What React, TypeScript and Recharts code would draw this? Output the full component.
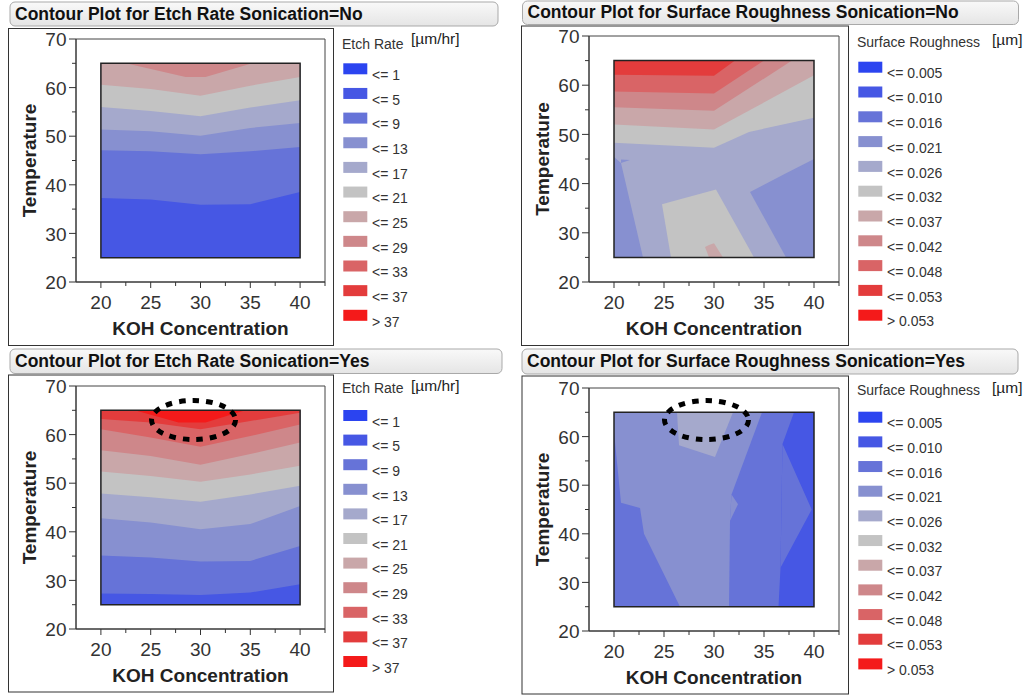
import React from 'react';
import { ComposedChart, Area, XAxis, YAxis, ReferenceArea, ReferenceDot, Label } from 'recharts';

const FONT = '"Liberation Sans", Arial, Helvetica, sans-serif';

// ---------- axes ----------
const KOH_DOMAIN: [number, number] = [17.5, 42.5];
const TEMP_DOMAIN: [number, number] = [20, 70];
const KOH_MAJOR = [20, 25, 30, 35, 40];
const KOH_MINOR = [22.5, 27.5, 32.5, 37.5, 42.5];
const TEMP_MAJOR = [20, 30, 40, 50, 60, 70];
const TEMP_MINOR = [25, 35, 45, 55, 65];
const KOH_RANGE = [20, 40];
const TEMP_RANGE = [25, 65];

// ---------- legend ----------
const LEVEL_COLORS = ['#2b44f0', '#4657e4', '#6673d8', '#8790d0', '#a5a9cc', '#c3c3c3', '#c9a7a9', '#ce878a', '#d96466', '#e33c3c', '#f41a1a'];
const ETCH_LABELS = ['<= 1', '<= 5', '<= 9', '<= 13', '<= 17', '<= 21', '<= 25', '<= 29', '<= 33', '<= 37', '> 37'];
const ROUGH_LABELS = ['<= 0.005', '<= 0.010', '<= 0.016', '<= 0.021', '<= 0.026', '<= 0.032', '<= 0.037', '<= 0.042', '<= 0.048', '<= 0.053', '> 0.053'];

// ---------- Etch rate, Sonication = No ----------
// [level, lower edge [KOH, Temperature] of the region above that contour]
const ETCH_NO_BASE = 1;
const ETCH_NO_EDGES: [number, number[][]][] = [
  [2, [[20, 37.3], [25, 37.0], [30, 35.9], [35, 36.0], [40, 38.5]]],
  [3, [[20, 47.1], [25, 46.9], [30, 46.3], [35, 46.9], [40, 47.8]]],
  [4, [[20, 51.4], [25, 51.0], [30, 50.1], [35, 51.7], [40, 52.7]]],
  [5, [[20, 56.0], [25, 55.2], [30, 54.1], [35, 55.9], [40, 57.4]]],
  [6, [[20, 60.6], [25, 59.7], [30, 58.3], [35, 60.4], [40, 62.2]]],
  [7, [[22.5, 65], [28.5, 62.2], [30.5, 62.2], [35.2, 65]]],
];

// ---------- Etch rate, Sonication = Yes ----------
const ETCH_YES_BASE = 1;
const ETCH_YES_EDGES: [number, number[][]][] = [
  [2, [[20, 27.3], [25, 27.2], [30, 27.0], [35, 27.5], [40, 29.2]]],
  [3, [[20, 35.1], [25, 34.7], [30, 33.9], [35, 34.0], [40, 37.1]]],
  [4, [[20, 42.8], [25, 41.9], [30, 40.5], [35, 41.6], [40, 45.3]]],
  [5, [[20, 47.9], [25, 47.1], [30, 46.2], [35, 47.7], [40, 49.5]]],
  [6, [[20, 52.4], [25, 51.5], [30, 50.3], [35, 51.8], [40, 53.6]]],
  [7, [[20, 56.8], [25, 55.6], [30, 53.8], [35, 56.0], [40, 58.4]]],
  [8, [[20, 61.1], [25, 59.4], [30, 57.5], [35, 59.7], [40, 62.1]]],
  [9, [[20, 63.2], [25, 62.5], [30, 61.1], [35, 62.8], [40, 64.5]]],
  [10, [[23.4, 65], [27.8, 62.5], [30.5, 62.5], [34.5, 65]]],
];
const ETCH_YES_MARK = [29.3, 63.0];

// ---------- Surface roughness, Sonication = No ----------
const ROUGH_NO_BASE = 4;
const ROUGH_NO_EDGES: [number, number[][]][] = [
  [5, [[20, 48.3], [30, 47.3], [33.5, 50.5], [40, 53.4]]],
  [6, [[20, 52.0], [30, 51.0], [40, 62.0]]],
  [7, [[20, 55.5], [30, 54.8], [37.8, 65]]],
  [8, [[20, 58.7], [30, 58.3], [35, 65]]],
  [9, [[20, 62.1], [30, 61.9], [32.1, 65]]],
];
// [level, [KOH, low Temperature, high Temperature] ...]
const ROUGH_NO_PATCHES: [number, number[][]][] = [
  [3, [[20, 25, 45.4], [20.7, 25, 44.2], [22.9, 25, 25]]],
  [3, [[20.7, 44.2, 44.9], [21.6, 44.8, 44.8]]],
  [3, [[33.6, 38.3, 38.3], [37.2, 25, 42.1], [40, 25, 45.0]]],
  [5, [[24.8, 35.8, 35.8], [25.7, 25, 36.3], [30.2, 25, 38.8], [34.0, 25, 25]]],
  [6, [[29.1, 27.1, 27.1], [29.5, 25, 27.5], [30.0, 25, 27.9], [30.9, 25, 25]]],
];

// ---------- Surface roughness, Sonication = Yes ----------
const ROUGH_YES_BASE = 3;
const ROUGH_YES_PATCHES: [number, number[][]][] = [
  [2, [[20, 25, 61], [20.7, 25, 46.4], [22.6, 25, 45.3], [23.0, 25, 40], [26.6, 25, 25]]],
  [2, [[31.5, 25, 25], [31.6, 25, 42.7], [31.75, 25, 48.1], [34.8, 25, 65], [40, 25, 65]]],
  [3, [[31.6, 42.7, 42.7], [31.75, 43.3, 48.1], [32.4, 46.1, 46.1]]],
  [1, [[36.45, 25, 25], [36.65, 25, 33.0], [36.85, 25, 58.5], [38.0, 25, 65], [40, 25, 65]]],
  [2, [[36.65, 33.0, 33.0], [36.85, 33.8, 58.5], [39.77, 45.0, 45.0]]],
  [4, [[26.3, 65, 65], [26.5, 58.2, 65], [30.1, 55.8, 65], [31.9, 65, 65]]],
];
const ROUGH_YES_MARK = [29.25, 63.4];

// ---------- helpers ----------
const X_TICKS = [...KOH_MAJOR, ...KOH_MINOR].sort((a, b) => a - b);
const Y_TICKS = [...TEMP_MAJOR, ...TEMP_MINOR].sort((a, b) => a - b);

const edgeData = (pts: number[][]) => pts.map(([x, y]) => ({ x, r: [y, TEMP_RANGE[1]] }));
const patchData = (pts: number[][]) => pts.map(([x, lo, hi]) => ({ x, r: [lo, hi] }));

function XTick(props: any) {
  const { x, y, payload } = props;
  const v = payload.value;
  const major = KOH_MAJOR.includes(v);
  return (
    <g>
      <line x1={x} x2={x} y1={y} y2={y + (major ? 6 : 4)} stroke="#333" strokeWidth={1} />
      {major ? (
        <text x={x} y={y + 26.5} textAnchor="middle" fontSize={19} fontFamily={FONT} fill="#333">
          {v}
        </text>
      ) : null}
    </g>
  );
}

function YTick(props: any) {
  const { x, y, payload } = props;
  const v = payload.value;
  const major = TEMP_MAJOR.includes(v);
  return (
    <g>
      <line x1={x - (major ? 7 : 4)} x2={x} y1={y} y2={y} stroke="#333" strokeWidth={1} />
      {major ? (
        <text x={x - 9.5} y={y + 7.2} textAnchor="end" fontSize={19} fontFamily={FONT} fill="#333">
          {v}
        </text>
      ) : null}
    </g>
  );
}

const XTitle = (props: any) => {
  const vb = props.viewBox || {};
  return (
    <text x={vb.x + vb.width / 2} y={vb.y + 52.5} textAnchor="middle" fontSize={19} fontWeight="bold" fontFamily={FONT} fill="#222">
      KOH Concentration
    </text>
  );
};

const YTitle = (props: any) => {
  const vb = props.viewBox || {};
  const cx = vb.x + vb.width - 40;
  const cy = vb.y + vb.height / 2;
  return (
    <text transform={`translate(${cx},${cy}) rotate(-90)`} x={0} y={0} textAnchor="middle" fontSize={19} fontWeight="bold" fontFamily={FONT} fill="#222">
      Temperature
    </text>
  );
};

const EllipseShape = (props: any) => (
  <ellipse cx={props.cx} cy={props.cy} rx={42} ry={19.5} fill="none" stroke="#000" strokeWidth={5} strokeDasharray="6.5 7" />
);

type PanelProps = {
  left: number;
  top: number;
  yAxisWidth: number;
  plotWidth: number;
  marginTop: number;
  plotHeight: number;
  base: number;
  edges: [number, number[][]][];
  patches: [number, number[][]][];
  mark?: number[];
};

function Panel({ left, top, yAxisWidth, plotWidth, marginTop, plotHeight, base, edges, patches, mark }: PanelProps) {
  const width = yAxisWidth + plotWidth + 9;
  const height = marginTop + plotHeight + 60;
  const baseData = [
    { x: KOH_RANGE[0], r: [TEMP_RANGE[0], TEMP_RANGE[1]] },
    { x: KOH_RANGE[1], r: [TEMP_RANGE[0], TEMP_RANGE[1]] },
  ];
  return (
    <div style={{ position: 'absolute', left, top, width, height }}>
      <ComposedChart width={width} height={height} data={baseData} margin={{ top: marginTop, right: 9, bottom: 0, left: 0 }}>
        <XAxis
          dataKey="x"
          type="number"
          domain={KOH_DOMAIN}
          allowDataOverflow
          ticks={X_TICKS}
          interval={0}
          tickSize={0}
          tickMargin={0}
          tickLine={false}
          tick={XTick}
          height={60}
          stroke="#333"
        >
          <Label content={XTitle} />
        </XAxis>
        <YAxis
          type="number"
          domain={TEMP_DOMAIN}
          allowDataOverflow
          ticks={Y_TICKS}
          interval={0}
          tickSize={0}
          tickMargin={0}
          tickLine={false}
          tick={YTick}
          width={yAxisWidth}
          stroke="#333"
        >
          <Label content={YTitle} />
        </YAxis>
        <ReferenceArea x1={KOH_DOMAIN[0]} x2={KOH_DOMAIN[1]} y1={TEMP_DOMAIN[0]} y2={TEMP_DOMAIN[1]} fill="none" stroke="#444" strokeWidth={1} />
        <Area dataKey="r" type="linear" fill={LEVEL_COLORS[base]} fillOpacity={1} stroke="none" isAnimationActive={false} dot={false} activeDot={false} />
        {edges.map(([lvl, pts], i) => (
          <Area
            key={'e' + i}
            data={edgeData(pts)}
            dataKey="r"
            type="linear"
            fill={LEVEL_COLORS[lvl]}
            fillOpacity={1}
            stroke="none"
            isAnimationActive={false}
            dot={false}
            activeDot={false}
          />
        ))}
        {patches.map(([lvl, pts], i) => (
          <Area
            key={'p' + i}
            data={patchData(pts)}
            dataKey="r"
            type="linear"
            fill={LEVEL_COLORS[lvl]}
            fillOpacity={1}
            stroke="none"
            isAnimationActive={false}
            dot={false}
            activeDot={false}
          />
        ))}
        <ReferenceArea x1={KOH_RANGE[0]} x2={KOH_RANGE[1]} y1={TEMP_RANGE[0]} y2={TEMP_RANGE[1]} fill="none" stroke="#222" strokeWidth={1.5} />
        {mark ? <ReferenceDot x={mark[0]} y={mark[1]} r={2} ifOverflow="visible" shape={EllipseShape} /> : null}
      </ComposedChart>
    </div>
  );
}

type LegendProps = {
  header: string;
  headerX: number;
  headerY: number;
  unit: string;
  unitX: number;
  unitY: number;
  swatchX: number;
  top0: number;
  step: number;
  labelX: number;
  labels: string[];
};

function LegendBlock({ header, headerX, headerY, unit, unitX, unitY, swatchX, top0, step, labelX, labels }: LegendProps) {
  return (
    <g fontFamily={FONT}>
      <text x={headerX} y={headerY} fontSize={14} fill="#333">{header}</text>
      <text x={unitX} y={unitY} fontSize={15.5} fill="#222">{unit}</text>
      {labels.map((lab, i) => (
        <g key={i}>
          <rect x={swatchX} y={top0 + i * step} width={24} height={11} fill={LEVEL_COLORS[i]} />
          <text x={labelX} y={top0 + i * step + 16.7} fontSize={14} fill="#333">{lab}</text>
        </g>
      ))}
    </g>
  );
}

function TitleBar({ x, y, w, h, text, baseline }: { x: number; y: number; w: number; h: number; text: string; baseline: number }) {
  return (
    <g>
      <rect x={x} y={y} width={w} height={h} rx={5} ry={5} fill="url(#barGrad)" stroke="#a9a9a9" strokeWidth={1} />
      <text x={x + 5} y={baseline} fontSize={17.5} fontWeight="bold" fontFamily={FONT} fill="#111">{text}</text>
    </g>
  );
}

export default function App() {
  return (
    <div style={{ position: 'absolute', left: 0, top: 0, width: 1027, height: 696, background: '#fff', overflow: 'hidden' }}>
      <Panel left={8} top={28} yAxisWidth={68} plotWidth={249} marginTop={11} plotHeight={243} base={ETCH_NO_BASE} edges={ETCH_NO_EDGES} patches={[]} />
      <Panel left={522} top={26} yAxisWidth={67} plotWidth={250} marginTop={10} plotHeight={246} base={ROUGH_NO_BASE} edges={ROUGH_NO_EDGES} patches={ROUGH_NO_PATCHES} />
      <Panel left={8} top={375} yAxisWidth={68} plotWidth={249} marginTop={11} plotHeight={243} base={ETCH_YES_BASE} edges={ETCH_YES_EDGES} patches={[]} mark={ETCH_YES_MARK} />
      <Panel left={522} top={376} yAxisWidth={67} plotWidth={250} marginTop={12} plotHeight={243} base={ROUGH_YES_BASE} edges={[]} patches={ROUGH_YES_PATCHES} mark={ROUGH_YES_MARK} />
      <svg width={1027} height={696} style={{ position: 'absolute', left: 0, top: 0, pointerEvents: 'none' }}>
        <defs>
          <linearGradient id="barGrad" x1="0" y1="0" x2="0" y2="1">
            <stop offset="0" stopColor="#f9f9f9" />
            <stop offset="1" stopColor="#e5e5e5" />
          </linearGradient>
        </defs>
        <TitleBar x={10} y={2} w={488} h={24} text="Contour Plot for Etch Rate Sonication=No" baseline={20} />
        <TitleBar x={522.5} y={1} w={496} h={23.5} text="Contour Plot for Surface Roughness Sonication=No" baseline={17.5} />
        <TitleBar x={10} y={349} w={492} h={24.5} text="Contour Plot for Etch Rate Sonication=Yes" baseline={366.7} />
        <TitleBar x={522} y={349} w={496} h={25} text="Contour Plot for Surface Roughness Sonication=Yes" baseline={366.7} />
        <rect x={8.5} y={28.5} width={325} height={317} fill="none" stroke="#333" strokeWidth={1} />
        <rect x={521.5} y={26} width={327} height={319.5} fill="none" stroke="#333" strokeWidth={1} />
        <rect x={8.5} y={375} width={325} height={317} fill="none" stroke="#333" strokeWidth={1} />
        <rect x={522} y={376} width={326.5} height={318} fill="none" stroke="#333" strokeWidth={1} />
        <LegendBlock header="Etch Rate" headerX={342} headerY={48.5} unit="[µm/hr]" unitX={411} unitY={44.3} swatchX={343.3} top0={63.3} step={24.65} labelX={372} labels={ETCH_LABELS} />
        <LegendBlock header="Surface Roughness" headerX={857} headerY={46.7} unit="[µm]" unitX={992} unitY={45} swatchX={858.3} top0={61.7} step={24.8} labelX={887} labels={ROUGH_LABELS} />
        <LegendBlock header="Etch Rate" headerX={342} headerY={393.3} unit="[µm/hr]" unitX={411} unitY={391} swatchX={343.3} top0={410} step={24.6} labelX={372} labels={ETCH_LABELS} />
        <LegendBlock header="Surface Roughness" headerX={857} headerY={395} unit="[µm]" unitX={992} unitY={392.6} swatchX={858.3} top0={411.7} step={24.67} labelX={887} labels={ROUGH_LABELS} />
      </svg>
    </div>
  );
}
